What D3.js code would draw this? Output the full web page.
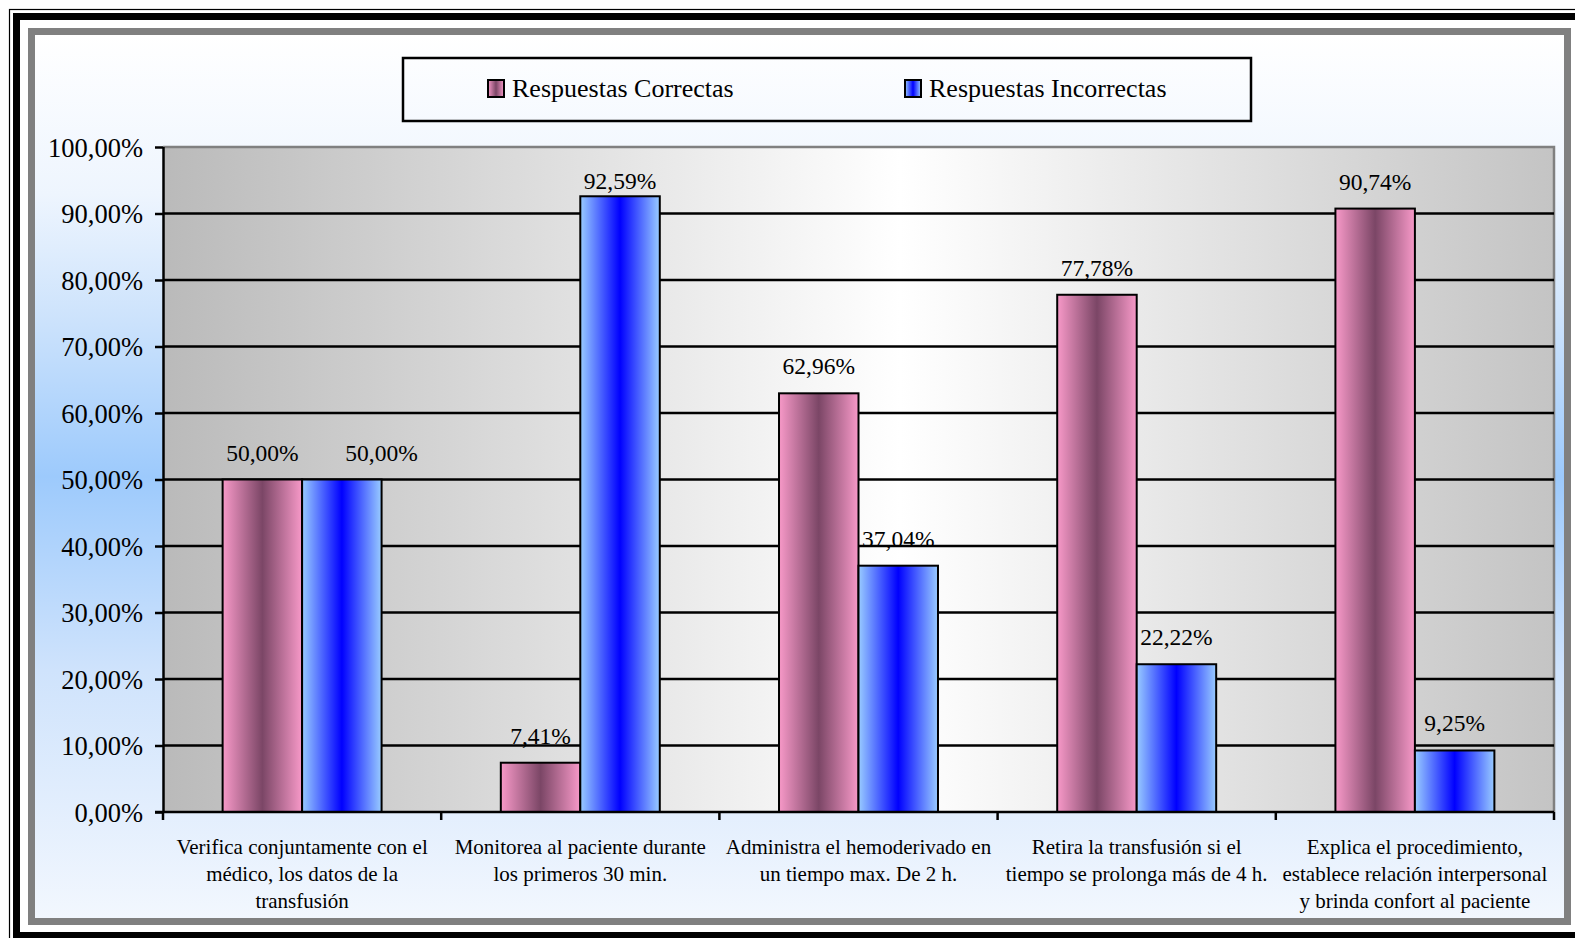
<!DOCTYPE html>
<html>
<head>
<meta charset="utf-8">
<script src="https://cdn.jsdelivr.net/npm/d3@7"></script>
<style>
  body { margin: 0; background: #fff; }
  svg text { font-family: "Liberation Serif", "Times New Roman", serif; fill: #000; }
</style>
</head>
<body>
<div id="chart"></div>
<script>
// datos
const categories = [
  ["Verifica conjuntamente con el", "médico, los datos de la", "transfusión"],
  ["Monitorea al paciente durante", "los primeros 30 min."],
  ["Administra el hemoderivado en", "un tiempo max. De 2 h."],
  ["Retira la transfusión si el", "tiempo se prolonga más de 4 h."],
  ["Explica el procedimiento,", "establece relación interpersonal", "y brinda confort al paciente"]
];
const seriesNames = ["Respuestas Correctas", "Respuestas Incorrectas"];
const correctas = [50.00, 7.41, 62.96, 77.78, 90.74];
const incorrectas = [50.00, 92.59, 37.04, 22.22, 9.25];
const yTicks = [0, 10, 20, 30, 40, 50, 60, 70, 80, 90, 100];

const width = 1575, height = 938;
const plot = { left: 163, right: 1554, top: 147, bottom: 812 };

const fmt = v => v.toFixed(2).replace('.', ',') + '%';

const svg = d3.select('#chart').append('svg')
  .attr('width', width)
  .attr('height', height);

const defs = svg.append('defs');

// fondo exterior
const bg = defs.append('linearGradient').attr('id', 'bgGrad')
  .attr('x1', 0).attr('y1', 0).attr('x2', 0).attr('y2', 1);
[[0, '#ffffff'], [0.18, '#eef5fe'], [0.32, '#cde3fc'], [0.5, '#9dcafc'], [0.72, '#cfe3fc'], [1, '#f2f7fe']]
  .forEach(s => bg.append('stop').attr('offset', s[0]).attr('stop-color', s[1]));

// fondo del area de trazado
const pg = defs.append('linearGradient').attr('id', 'plotGrad')
  .attr('x1', 0).attr('y1', 0).attr('x2', 1).attr('y2', 0);
[[0, '#bababa'], [0.53, '#ffffff'], [1, '#c4c4c4']]
  .forEach(s => pg.append('stop').attr('offset', s[0]).attr('stop-color', s[1]));

// degradados de las barras
const barColors = [
  ['#f799c8', '#7b4666'],
  ['#99ccff', '#0000ff']
];
barColors.forEach((c, i) => {
  const g = defs.append('linearGradient').attr('id', 'bar' + i)
    .attr('x1', 0).attr('y1', 0).attr('x2', 1).attr('y2', 0);
  g.append('stop').attr('offset', 0).attr('stop-color', c[0]);
  g.append('stop').attr('offset', 0.5).attr('stop-color', c[1]);
  g.append('stop').attr('offset', 1).attr('stop-color', c[0]);
});

// marcos
svg.append('rect')
  .attr('x', 35).attr('y', 35).attr('width', 1529).attr('height', 883)
  .attr('fill', 'url(#bgGrad)');
svg.append('rect')
  .attr('x', 31.5).attr('y', 31.5).attr('width', 1536).attr('height', 890)
  .attr('fill', 'none').attr('stroke', '#808080').attr('stroke-width', 7);
svg.append('rect')
  .attr('x', 16.5).attr('y', 16.5).attr('width', 1570).attr('height', 919)
  .attr('fill', 'none').attr('stroke', '#000').attr('stroke-width', 7);
svg.append('rect')
  .attr('x', 9.5).attr('y', 9.5).attr('width', 1580).attr('height', 940)
  .attr('fill', 'none').attr('stroke', '#000').attr('stroke-width', 1.2);

// escalas
const x0 = d3.scaleBand()
  .domain(d3.range(categories.length))
  .range([plot.left, plot.right])
  .padding(0);
const x1 = d3.scaleBand()
  .domain([0, 1])
  .range([0, x0.bandwidth()])
  .paddingInner(0)
  .paddingOuter(0.75);
const y = d3.scaleLinear().domain([0, 100]).range([plot.bottom, plot.top]);

// area de trazado
svg.append('rect')
  .attr('x', plot.left).attr('y', plot.top)
  .attr('width', plot.right - plot.left).attr('height', plot.bottom - plot.top)
  .attr('fill', 'url(#plotGrad)');
svg.append('path')
  .attr('d', `M${plot.left},${plot.top}H${plot.right}V${plot.bottom}`)
  .attr('fill', 'none').attr('stroke', '#808080').attr('stroke-width', 2.5);

// lineas de division
svg.append('g').selectAll('line')
  .data(yTicks.filter(t => t > 0 && t < 100))
  .join('line')
  .attr('x1', plot.left).attr('x2', plot.right)
  .attr('y1', d => y(d)).attr('y2', d => y(d))
  .attr('stroke', '#000').attr('stroke-width', 2.5);

// barras
const series = [correctas, incorrectas];
const groups = svg.append('g').selectAll('g')
  .data(categories.map((c, i) => i))
  .join('g')
  .attr('transform', i => `translate(${x0(i)},0)`);

groups.selectAll('rect')
  .data(i => series.map((s, k) => ({ k, v: s[i] })))
  .join('rect')
  .attr('x', d => x1(d.k))
  .attr('y', d => y(d.v))
  .attr('width', x1.bandwidth())
  .attr('height', d => y(0) - y(d.v))
  .attr('fill', d => `url(#bar${d.k})`)
  .attr('stroke', '#000').attr('stroke-width', 2);

// etiquetas de datos (como Excel: no salen del area y se apartan si chocan)
const labelY = v => Math.max(y(v) - 19, plot.top + 42);
groups.selectAll('text.val')
  .data(i => series.map((s, k) => ({
    k, v: s[i],
    clash: k === 1 && Math.abs(labelY(series[0][i]) - labelY(s[i])) < 20
  })))
  .join('text')
  .attr('class', 'val')
  .attr('x', d => x1(d.k) + x1.bandwidth() / 2 + (d.clash ? x1.bandwidth() / 2 : 0))
  .attr('y', d => labelY(d.v))
  .attr('text-anchor', 'middle')
  .style('font-size', '23.5px')
  .text(d => fmt(d.v));

// eje Y
const yAxis = svg.append('g')
  .attr('transform', `translate(${plot.left},0)`)
  .call(d3.axisLeft(y).tickValues(yTicks).tickSize(8).tickPadding(12).tickFormat(fmt));
yAxis.select('.domain').attr('stroke', '#000').attr('stroke-width', 2.5)
  .attr('d', `M0.5,${plot.top}V${plot.bottom}`);
yAxis.selectAll('.tick line').attr('stroke', '#000').attr('stroke-width', 2.5);
yAxis.selectAll('.tick text')
  .style('font-size', '26.5px')
  .style('font-family', '"Liberation Serif", serif')
  .attr('dy', '0.34em');

// eje X
const xAxis = svg.append('g');
xAxis.append('line')
  .attr('x1', plot.left - 8).attr('x2', plot.right)
  .attr('y1', plot.bottom).attr('y2', plot.bottom)
  .attr('stroke', '#000').attr('stroke-width', 2.5);
xAxis.selectAll('line.tk')
  .data(d3.range(categories.length + 1))
  .join('line')
  .attr('class', 'tk')
  .attr('x1', i => i < categories.length ? x0(i) : plot.right)
  .attr('x2', i => i < categories.length ? x0(i) : plot.right)
  .attr('y1', plot.bottom).attr('y2', plot.bottom + 8)
  .attr('stroke', '#000').attr('stroke-width', 2.5);

xAxis.selectAll('text.cat')
  .data(categories)
  .join('text')
  .attr('class', 'cat')
  .attr('text-anchor', 'middle')
  .style('font-size', '21px')
  .each(function (lines, i) {
    d3.select(this).selectAll('tspan')
      .data(lines)
      .join('tspan')
      .attr('x', x0(i) + x0.bandwidth() / 2)
      .attr('y', (d, j) => 854 + j * 27)
      .text(d => d);
  });

// leyenda
const legend = svg.append('g');
legend.append('rect')
  .attr('x', 403).attr('y', 58).attr('width', 848).attr('height', 63)
  .attr('fill', 'none').attr('stroke', '#000').attr('stroke-width', 2.5);
const legendX = [488, 905];
seriesNames.forEach((name, k) => {
  legend.append('rect')
    .attr('x', legendX[k]).attr('y', 80).attr('width', 16).attr('height', 17)
    .attr('fill', `url(#bar${k})`)
    .attr('stroke', '#000').attr('stroke-width', 2);
  legend.append('text')
    .attr('x', legendX[k] + 24).attr('y', 97)
    .style('font-size', '26px')
    .text(name);
});
</script>
</body>
</html>
